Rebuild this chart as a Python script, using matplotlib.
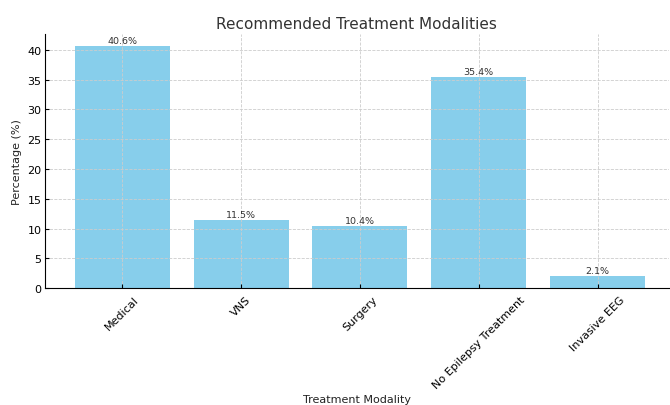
import matplotlib.pyplot as plt

# data
modalities = ['Medical', 'VNS', 'Surgery', 'No Epilepsy Treatment', 'Invasive EEG']
percentages = [40.6, 11.5, 10.4, 35.4, 2.1]

plt.rcParams['text.color'] = '#333333'
plt.rcParams['axes.labelcolor'] = '#222222'

fig = plt.figure(figsize=(6.7, 4.06), dpi=100)
ax = fig.add_axes([0.0672, 0.2874, 0.931, 0.6264])

bars = ax.bar(modalities, percentages, color='skyblue')

# percentage labels on top of each bar
for bar, val in zip(bars, percentages):
    ax.text(bar.get_x() + bar.get_width() / 2, bar.get_height() + 0.2,
            f'{val}%', ha='center', va='bottom', fontsize=6.8)

ax.set_xlim(-0.65, 4.6)
ax.set_title('Recommended Treatment Modalities', fontsize=11, pad=4)
ax.set_xlabel('Treatment Modality', fontsize=8, labelpad=3)
ax.set_ylabel('Percentage (%)', fontsize=8)
ax.tick_params(axis='x', labelrotation=45, labelsize=8, direction='in', length=3, pad=4)
ax.tick_params(axis='y', labelsize=8, direction='in', length=3, pad=2.5)
ax.grid(True, linestyle='--', linewidth=0.6, color='#cccccc')
ax.spines['top'].set_visible(False)
ax.spines['right'].set_visible(False)

fig.savefig('out.png', dpi=100)
